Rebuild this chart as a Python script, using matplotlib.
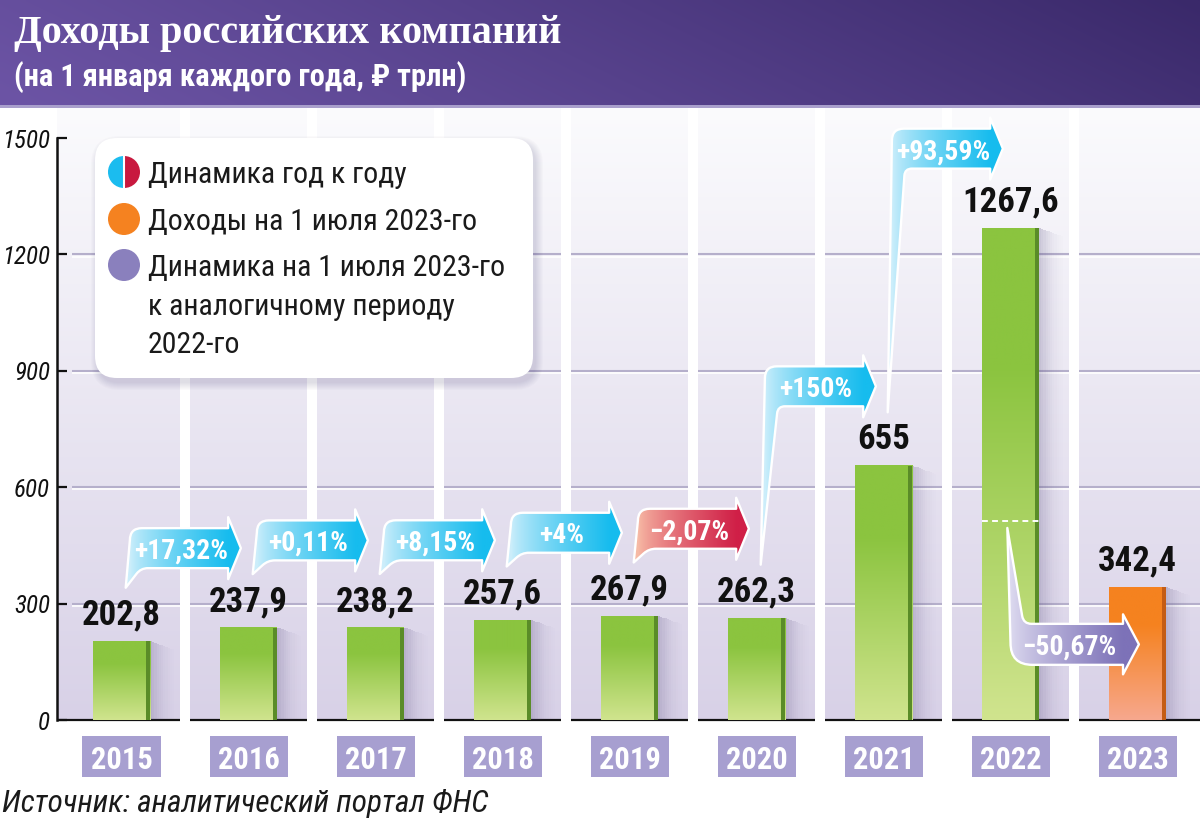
import numpy as np
import matplotlib
matplotlib.use('Agg')
import matplotlib.pyplot as plt
import matplotlib.font_manager as fm
from matplotlib.patches import Rectangle, FancyBboxPatch, PathPatch, Wedge, Circle
from matplotlib.path import Path
from matplotlib.colors import to_rgb

# ---------------- data ----------------
years = ['2015', '2016', '2017', '2018', '2019', '2020', '2021', '2022', '2023']
revenue = [202.8, 237.9, 238.2, 257.6, 267.9, 262.3, 655, 1267.6, 342.4]
value_labels = ['202,8', '237,9', '238,2', '257,6', '267,9', '262,3', '655', '1267,6', '342,4']
yoy_labels = ['+17,32%', '+0,11%', '+8,15%', '+4%', '−2,07%', '+150%', '+93,59%']
yoy_negative = [False, False, False, False, True, False, False]
h1_label = '−50,67%'
h1_2022_mark = 514
yticks = [0, 300, 600, 900, 1200, 1500]
title_text = 'Доходы российских компаний'
subtitle_text = '(на 1 января каждого года, ₽ трлн)'
source_text = 'Источник: аналитический портал ФНС'
legend_lines = [['Динамика год к году'],
                ['Доходы на 1 июля 2023-го'],
                ['Динамика на 1 июля 2023-го', 'к аналогичному периоду', '2022-го']]

# ---------------- fonts ----------------
ttf = fm.fontManager.ttflist
names = {f.name for f in ttf}
COND, STRETCH = None, 'normal'
for cand in ['Roboto Condensed', 'Noto Sans Condensed', 'Open Sans Condensed',
             'Liberation Sans Narrow', 'DejaVu Sans Condensed', 'Arial Narrow']:
    if cand in names:
        COND = cand
        break
if COND is None:
    for fam in ['Roboto', 'Noto Sans', 'DejaVu Sans', 'Open Sans']:
        if any(f.name == fam and f.stretch in ('condensed', 'semi-condensed') for f in ttf):
            COND, STRETCH = fam, 'condensed'
            break
if COND is None:
    COND = 'Roboto' if 'Roboto' in names else 'DejaVu Sans'
FAM = [COND, 'DejaVu Sans']


def FP(size, weight='normal', style='normal'):
    return fm.FontProperties(family=FAM, size=size, weight=weight, style=style, stretch=STRETCH)


def lerp(c1, c2, t):
    c1 = np.array(to_rgb(c1)); c2 = np.array(to_rgb(c2))
    t = np.asarray(t, dtype=float)[..., None]
    return c1 * (1 - t) + c2 * t


# ---------------- figure ----------------
W, H = 1200, 827
fig = plt.figure(figsize=(W / 100, H / 100), dpi=100)
fig.patch.set_facecolor('white')

bg = fig.add_axes([0, 0, 1, 1], zorder=0)
nx, ny = 300, 40
xx, yy = np.meshgrid(np.linspace(0, 1, nx), np.linspace(0, 1, ny))
t = np.clip(0.85 * xx + 0.15 * (1 - yy), 0, 1) ** 1.1
bg.imshow(lerp('#6c54a5', '#3a296a', t), extent=(0, W, 105, 0), aspect='auto',
          interpolation='bilinear', zorder=0)
bg.add_patch(Rectangle((0, 105), W, 3, fc='#a99fcc', lw=0))
bg.set_xlim(0, W); bg.set_ylim(H, 0); bg.axis('off')

# main axes geometry (layout)
AX_L, AX_R, AX_T, AX_B = 57, 1200, 108, 720
PPX = 127.0      # px per category
PPY = 0.388      # px per trillion
ax = fig.add_axes([AX_L / W, (H - AX_B) / H, (AX_R - AX_L) / W, (AX_B - AX_T) / H], zorder=1)
ax.patch.set_alpha(0)
x0 = -(121.5 - AX_L) / PPX
x1 = x0 + (AX_R - AX_L) / PPX
ytop = (AX_B - AX_T) / PPY
kx, ky = 1 / PPX, 1 / PPY

# plot background gradient
g = lerp('#fbfbfd', '#d8d1e7', np.linspace(0, 1, 200))[:, None, :]
ax.imshow(g, extent=(x0, x1, 0, ytop), origin='upper', aspect='auto', zorder=0,
          interpolation='bilinear')

# grid lines
gx0 = (72 - 121.5) / PPX
for v in yticks[1:-1]:
    ax.plot([gx0, x1], [v, v], color='#b5afcb', lw=1.5, zorder=1, solid_capstyle='butt')
    ax.plot([gx0, x1], [v - 2.2 * ky, v - 2.2 * ky], color='white', lw=1.2, zorder=1,
            solid_capstyle='butt')

# baseline
ax.plot([x0, x1], [0, 0], color='#111111', lw=1.6, zorder=2, clip_on=False,
        solid_capstyle='butt')

# white stripes between columns
xs = np.arange(len(years))
for i in xs[:-1]:
    ax.add_patch(Rectangle((i + 0.5 - 4.75 * kx, -4 * ky), 9.5 * kx, ytop + 4 * ky,
                           fc='white', lw=0, zorder=3, clip_on=False))

# bars
bar_w = 57 / PPX
base_cols = ['#8cc540'] * 8 + ['#f5821f']
bars = ax.bar(xs, revenue, width=bar_w, color=base_cols, zorder=5, linewidth=0)
for i, p in enumerate(bars.patches):
    left, w, h = p.get_x(), p.get_width(), p.get_height()
    right = left + w
    if i == len(bars.patches) - 1:
        light, dark, edge = '#f7a88e', '#f5821f', '#c45c14'
    else:
        light, dark, edge = '#d0e48e', '#8bc43f', '#5a8c28'
    tt = np.clip(np.linspace(0, 1, 200) / 0.72, 0, 1)
    ax.imshow(lerp(light, dark, tt)[:, None, :], extent=(left, right, 0, h), origin='lower',
              aspect='auto', zorder=5.1, interpolation='bilinear')
    ax.add_patch(Rectangle((right - 4.5 * kx, 0), 4.5 * kx, h, fc=edge, lw=0, zorder=5.2))
    # soft shadow on the right
    for j in range(12):
        ax.add_patch(Rectangle((right + j * 2.2 * kx, 0), 2.2 * kx, h - j * 0.8 * ky,
                               fc='#4b3f73', alpha=0.24 * (1 - j / 12) ** 2, lw=0, zorder=4))
    ax.annotate(value_labels[i], (xs[i], revenue[i]), xytext=(0, 12), textcoords='offset points',
                ha='center', va='baseline', fontproperties=FP(25, 'bold'), color='#111111',
                zorder=8)

# dashed mark inside 2022 bar
p22 = bars.patches[7]
ax.plot([p22.get_x(), p22.get_x() + p22.get_width()], [h1_2022_mark, h1_2022_mark],
        color='white', lw=1.4, ls=(0, (3, 2.2)), zorder=6)


# ---------------- callout arrows ----------------
def callout(xl, xb, xt, yc, xtt, ytt, s, c_light, c_dark, label, r=12, tw=11, r2=7,
            bh=20, hh=31, gamma=0.75):
    def Y(d):
        return yc + s * d * ky
    jx, jy = xl + tw * kx, Y(-bh)
    dxp, dyp = (xtt - jx) / kx, (ytt - jy) / ky
    L = np.hypot(dxp, dyp)
    ex, ey = jx + dxp / L * r2 * kx, jy + dyp / L * r2 * ky
    verts = [(xtt, ytt), (xl, Y(bh - r)), (xl, Y(bh)), (xl + r * kx, Y(bh)),
             (xb, Y(bh)), (xb, Y(hh)), (xt, yc), (xb, Y(-hh)), (xb, Y(-bh)),
             (jx + r2 * kx, Y(-bh)), (jx, jy), (ex, ey), (xtt, ytt), (xtt, ytt)]
    codes = [Path.MOVETO, Path.LINETO, Path.CURVE3, Path.CURVE3, Path.LINETO, Path.LINETO,
             Path.LINETO, Path.LINETO, Path.LINETO, Path.LINETO, Path.CURVE3, Path.CURVE3,
             Path.LINETO, Path.CLOSEPOLY]
    path = Path(verts, codes)
    vx = [v[0] for v in verts]; vy = [v[1] for v in verts]
    xmn, xmx, ymn, ymx = min(vx), max(vx), min(vy), max(vy)
    gx = np.linspace(xmn, xmx, 300)
    gt = np.clip((gx - xl) / (xb - xl), 0, 1) ** gamma
    im = ax.imshow(lerp(c_light, c_dark, gt)[None, :, :], extent=(xmn, xmx, ymn, ymx),
                   aspect='auto', zorder=7, interpolation='bilinear')
    patch = PathPatch(path, transform=ax.transData, fc='none', ec='white', lw=1.7,
                      zorder=7.1, joinstyle='round')
    ax.add_patch(patch)
    im.set_clip_path(patch)
    ax.text((xl + xb) / 2 + 2 * kx, yc, label, ha='center', va='center_baseline',
            color='white', fontproperties=FP(20, 'semibold'), zorder=8)


for k, lab in enumerate(yoy_labels):
    prev, nxt = revenue[k], revenue[k + 1]
    yc = max(prev + 225, nxt + 205)
    if yoy_negative[k]:
        cl, cd = '#f7bba6', '#d01f47'
    else:
        cl, cd = '#cdeefb', '#16bcee'
    callout(k + 0.066, k + 0.84, k + 0.94, yc, k + 0.033, prev + 138, 1, cl, cd, lab,
            tw=11 if yc - prev < 300 else 13)

# purple arrow: 2022 H1 -> 2023 H1
callout(7.0, 7.886, 8.011, 195, 6.975, h1_2022_mark - 19, -1, '#dedbf0', '#7d72b8',
        h1_label, r=22, tw=13, r2=8, bh=20.5, hh=30, gamma=0.8)

# ---------------- axes styling ----------------
for s_ in ['top', 'right', 'bottom']:
    ax.spines[s_].set_visible(False)
ax.spines['left'].set_bounds(0, 1500)
ax.spines['left'].set_linewidth(1.8)
ax.spines['left'].set_color('#111111')
ax.set_yticks(yticks)
ax.set_yticklabels([str(v) for v in yticks], fontproperties=FP(18, 'normal', 'italic'))
ax.tick_params(axis='y', direction='in', length=7, width=1.6, pad=5, colors='#111111')
ax.set_xticks(xs)
ax.set_xticklabels(years, fontproperties=FP(22, 'bold'), color='white')
ax.tick_params(axis='x', length=0, pad=18)
xtr = ax.get_xaxis_transform()
for i in xs:
    ax.add_patch(Rectangle((i - 39 * kx, (AX_B - 777) / (AX_B - AX_T)), 78 * kx,
                           41 / (AX_B - AX_T), transform=xtr, clip_on=False,
                           fc='#a79fd0', lw=0, zorder=1))
ax.set_xlim(x0, x1)
ax.set_ylim(0, ytop)

# ---------------- overlay: titles, legend, source ----------------
ov = fig.add_axes([0, 0, 1, 1], zorder=10)
ov.set_xlim(0, W); ov.set_ylim(H, 0); ov.axis('off')
ov.patch.set_alpha(0)

ov.text(14, 43, title_text, family=['Liberation Serif', 'DejaVu Serif'], fontsize=29,
        fontweight='bold', color='white', va='baseline', ha='left')
ov.text(14, 77, subtitle_text, fontproperties=FP(22, 'bold'), color='white', va='center',
        ha='left')
ov.text(2, 804, source_text, fontproperties=FP(22.5, 'normal', 'italic'), color='#1a1a1a',
        va='center', ha='left')

# legend box with soft shadow
LX, LY, LW, LH = 95, 138, 438, 240
for k in range(8):
    ov.add_patch(FancyBboxPatch((LX + 3 - k, LY + 5 - k), LW + 2 * k, LH + 2 * k,
                                boxstyle='round,pad=0,rounding_size=%d' % (22 + k),
                                fc='#3a3060', alpha=0.02, lw=0))
ov.add_patch(FancyBboxPatch((LX, LY), LW, LH, boxstyle='round,pad=0,rounding_size=22',
                            fc='white', lw=0))
cx = 124
ov.add_patch(Wedge((cx, 172), 16, 90, 270, fc='#1bbcef', lw=0))
ov.add_patch(Wedge((cx, 172), 16, -90, 90, fc='#c8193f', lw=0))
ov.plot([cx, cx], [155, 189], color='white', lw=1.5)
ov.add_patch(Circle((cx, 219), 16, fc='#f58220', lw=0))
ov.add_patch(Circle((cx, 265), 16, fc='#8a80bd', lw=0))
line_y = [[172], [219], [265, 304, 342]]
for lines, ys in zip(legend_lines, line_y):
    for ln, yv in zip(lines, ys):
        ov.text(148, yv, ln, fontproperties=FP(21.5), color='#1a1a1a', va='center_baseline',
                ha='left')

fig.savefig('out.png', dpi=100)
